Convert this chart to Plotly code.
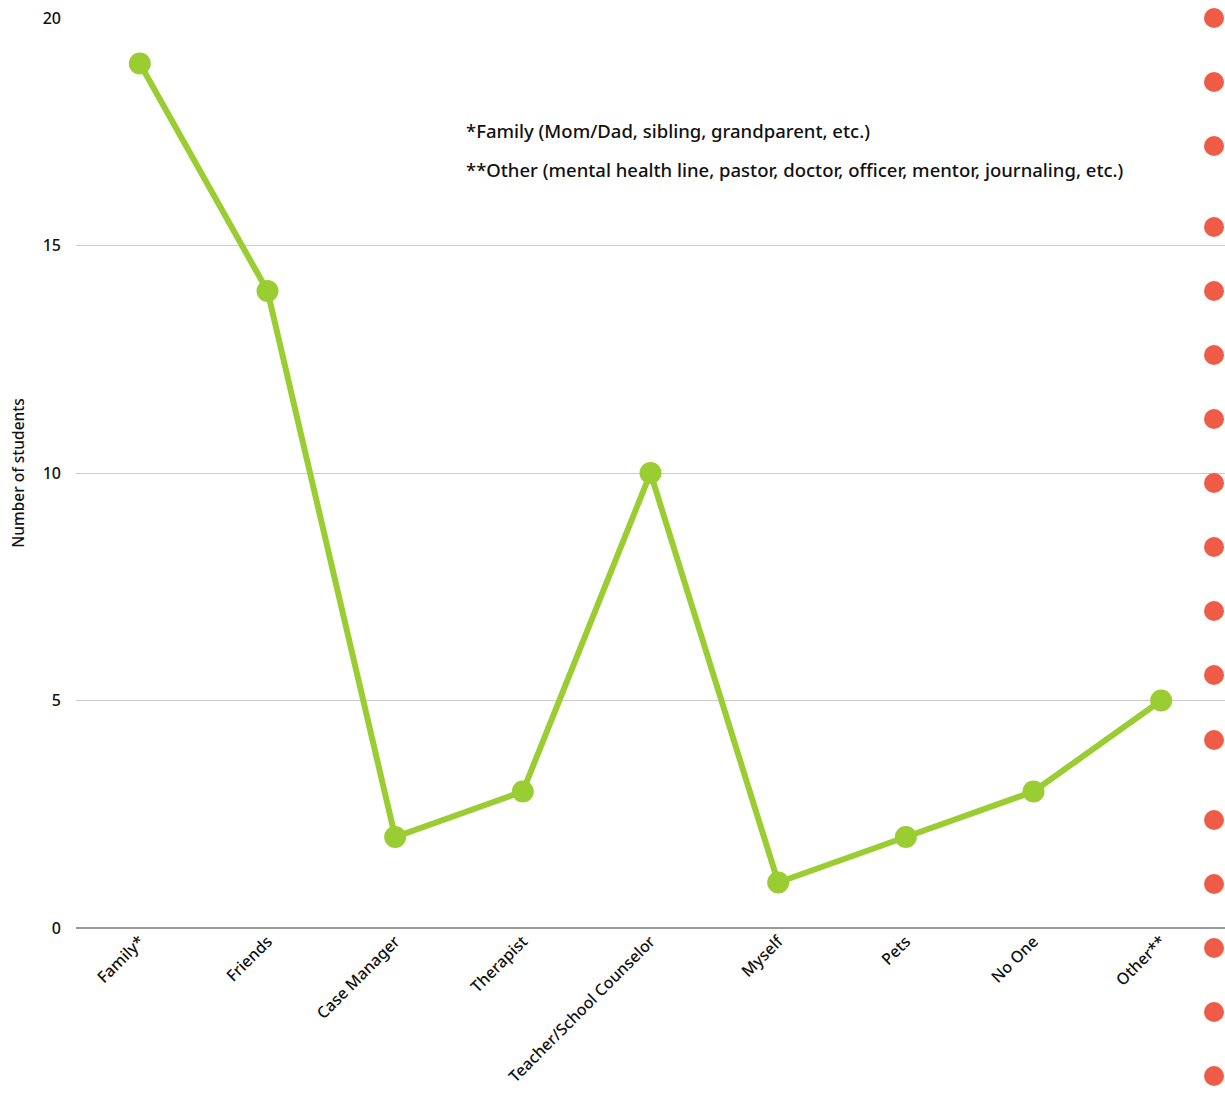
import plotly.graph_objects as go

# Who students turn to for support
categories = ["Family*", "Friends", "Case Manager", "Therapist",
              "Teacher/School Counselor", "Myself", "Pets", "No One", "Other**"]
students = [19, 14, 2, 3, 10, 1, 2, 3, 5]

y_ticks = [0, 5, 10, 15, 20]

notes = [
    "*Family (Mom/Dad, sibling, grandparent, etc.)",
    "**Other (mental health line, pastor, doctor, officer, mentor, journaling, etc.)",
]

# Decorative dotted border on the right edge (pixel rows of each dot)
border_dot_rows = [18, 82, 146, 227, 291, 355, 419, 483, 547, 611, 675,
                   740, 820, 884, 948, 1012, 1076]

FONT = "Noto Sans"
GREEN = "#9ACD32"
RED = "#EF5B47"

W, H = 1225, 1097
M_L, M_R, M_T, M_B = 76, 0, 18, 169
plot_w = W - M_L - M_R
plot_h = H - M_T - M_B

fig = go.Figure()
fig.add_trace(go.Scatter(
    x=categories, y=students, mode="lines+markers",
    line=dict(color=GREEN, width=6),
    marker=dict(color=GREEN, size=22),
    cliponaxis=False, showlegend=False,
))

shapes = []
dot_px_x = 1214
r = 10
for row in border_dot_rows:
    cx = (dot_px_x - M_L) / plot_w
    cy = (H - M_B - row) / plot_h
    shapes.append(dict(
        type="circle", xref="paper", yref="paper",
        x0=cx - r / plot_w, x1=cx + r / plot_w,
        y0=cy - r / plot_h, y1=cy + r / plot_h,
        fillcolor=RED, line=dict(width=0), layer="above",
    ))

annotations = []
for i, t in enumerate(notes):
    annotations.append(dict(
        text=t, xref="paper", yref="y", x=(464 - M_L) / plot_w,
        y=[17.52, 16.68][i], xanchor="left", yanchor="middle",
        showarrow=False,
        font=dict(family=FONT, size=18.5, weight=500, color="#111"),
    ))

fig.update_layout(
    width=W, height=H,
    margin=dict(l=M_L, r=M_R, t=M_T, b=M_B, pad=0),
    paper_bgcolor="white", plot_bgcolor="white",
    font=dict(family=FONT, color="#111"),
    shapes=shapes, annotations=annotations,
    xaxis=dict(
        type="category", range=[-0.5, len(categories) - 0.5],
        tickangle=-45, tickfont=dict(size=16, family=FONT, weight=500),
        showgrid=False, showline=False, ticks="", zeroline=False,
    ),
    yaxis=dict(
        range=[0, 20], tickvals=y_ticks,
        tickfont=dict(size=16, family=FONT, weight=500),
        showgrid=True, gridcolor="#cccccc", gridwidth=1,
        zeroline=True, zerolinecolor="#999999", zerolinewidth=2,
        showline=False, ticks="", ticklabelstandoff=14,
        title=dict(text="Number of students",
                   font=dict(size=15.5, family=FONT, weight=500),
                   standoff=14),
    ),
)

fig.write_html("out.html")
